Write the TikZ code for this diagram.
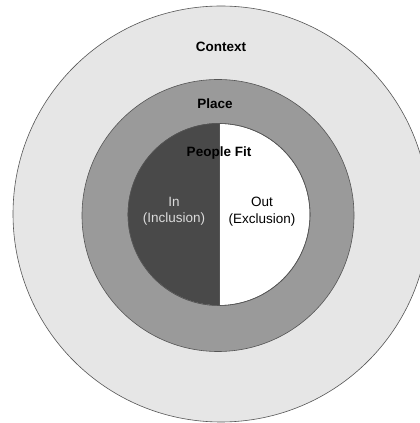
\documentclass[tikz,border=0pt]{standalone}
\usepackage{fontspec}
\setmainfont{Liberation Sans}
\usetikzlibrary{positioning}
\definecolor{contextgray}{HTML}{E6E6E6}
\definecolor{placegray}{HTML}{9A9A9A}
\definecolor{ingray}{HTML}{494949}
\definecolor{rimgray}{HTML}{555555}
\tikzset{ring/.style={circle,draw=rimgray,line width=0.6pt,inner sep=0pt},
  title/.style={font=\fontsize{13.5}{16}\selectfont\bfseries,text=black},
  side text/.style={font=\fontsize{13.5}{16.5}\selectfont,align=center},
}

\begin{document}
\begin{tikzpicture}[x=1pt,y=1pt]
		\useasboundingbox (0,0) rectangle (420,423);
		\clip (0,0) rectangle (420,423);
		\node[ring,fill=contextgray,minimum size=416pt] (context) at (221,209) {};
		\node[ring,fill=placegray,minimum size=272pt] (place) at (218,207.5) {};
		\node[ring,fill=white,minimum size=182pt] (people) at (219,208.5) {};
		
		% left half of the inner circle
		\fill[ingray] (people.north) arc[start angle=90,end angle=270,radius=91pt] -- cycle;
		\draw[rimgray,line width=0.6pt] (people.north) -- (people.south);
		\draw[rimgray,line width=0.6pt] (people) circle[radius=91pt];
		
		\node[title] (ctxlabel) at (221,376.5) {Context};
		\node[title] (placelabel) at (215,319) {Place};
		\node[title] (fitlabel) at (219,269.5) {People Fit};
		\node[side text,text=black!14] (inlabel) at (174,211.5) {In\\(Inclusion)};
		\node[side text,text=black] (outlabel) at (262,211.5) {Out\\(Exclusion)};
		
	\end{tikzpicture}
\end{document}
